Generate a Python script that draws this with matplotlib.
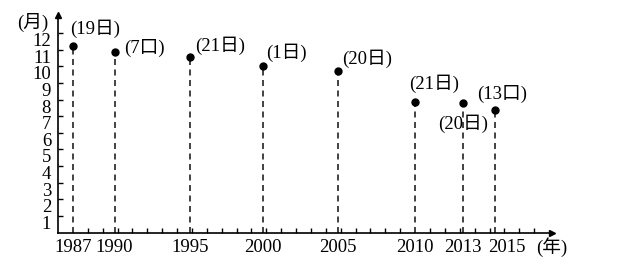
import numpy as np
import matplotlib
matplotlib.use('Agg')
import matplotlib.pyplot as plt
import matplotlib.transforms as mtransforms

plt.rcParams['font.family'] = ['Liberation Serif', 'Noto Sans CJK SC']
plt.rcParams['font.size'] = 13.5

# data
years = [1987, 1989.8, 1994.85, 1999.8, 2004.8, 2010, 2013.2, 2015.4]
months = [11.25, 10.9, 10.55, 10.0, 9.75, 7.85, 7.8, 7.4]
day_labels = ['(19日)', '(7口)', '(21日)', '(1日)', '(20日)', '(21日)', '(20日)', '(13口)']
year_ticks = [1987, 1989.8, 1994.85, 1999.8, 2004.8, 2010, 2013.2, 2016.2]
year_labels = ['1987', '1990', '1995', '2000', '2005', '2010', '2013', '2015']
month_ticks = list(range(1, 13))

# label placement (pixels, relative to point)
offsets = [(-3, 17, 'left'), (10, 4, 'left'), (5, 12, 'left'), (3, 14, 'left'),
           (4, 12, 'left'), (-6, 18, 'left'), (0, -21, 'center'), (-18, 16, 'left')]

fig = plt.figure(figsize=(6.38, 2.66), dpi=100)
ax = fig.add_axes([58/638, 1-232.5/266, (552-58)/638, (232.5-15)/266])
ax.set_xlim(1986, 2019.2)
ax.set_ylim(0, 13.1)

for s in ['top', 'right']:
    ax.spines[s].set_visible(False)
for s in ['left', 'bottom']:
    ax.spines[s].set_linewidth(1.2)

# arrow heads
ax.plot(1, 0, '>k', ms=5, transform=ax.transAxes, clip_on=False)
ax.plot(0, 1, '^k', ms=5, transform=ax.transAxes, clip_on=False)

# dashed drop lines and points
ax.vlines(years, 0, months, colors='#222222', linestyles=(0, (3.6, 2.7)), lw=1.2)
ax.plot(years, months, 'o', color='black', ms=5, clip_on=False)

for x, y, t, (dx, dy, ha) in zip(years, months, day_labels, offsets):
    ax.annotate(t, (x, y), xytext=(dx, dy), textcoords='offset pixels',
                ha=ha, va='center')

# ticks
ax.set_xticks(np.arange(1987, 2019), minor=True)
ax.set_xticks(year_ticks)
ax.set_xticklabels(year_labels)
ax.tick_params(axis='x', which='both', direction='in', length=3.6, width=1, pad=4.5)
ax.tick_params(axis='x', which='major', length=0)
ax.set_yticks(month_ticks)
ax.set_yticklabels([str(m) for m in month_ticks])
ax.tick_params(axis='y', direction='in', length=3.6, width=1, pad=5)
shift = mtransforms.ScaledTranslation(0, -6.5/100, fig.dpi_scale_trans)
for lab in ax.get_yticklabels():
    lab.set_transform(lab.get_transform() + shift)

ax.text(1984.3, 12.68, '(月)', ha='center', va='center', clip_on=False)
ax.text(2019.15, -0.87, '(年)', ha='center', va='center', clip_on=False)

fig.savefig('out.png', dpi=100)
